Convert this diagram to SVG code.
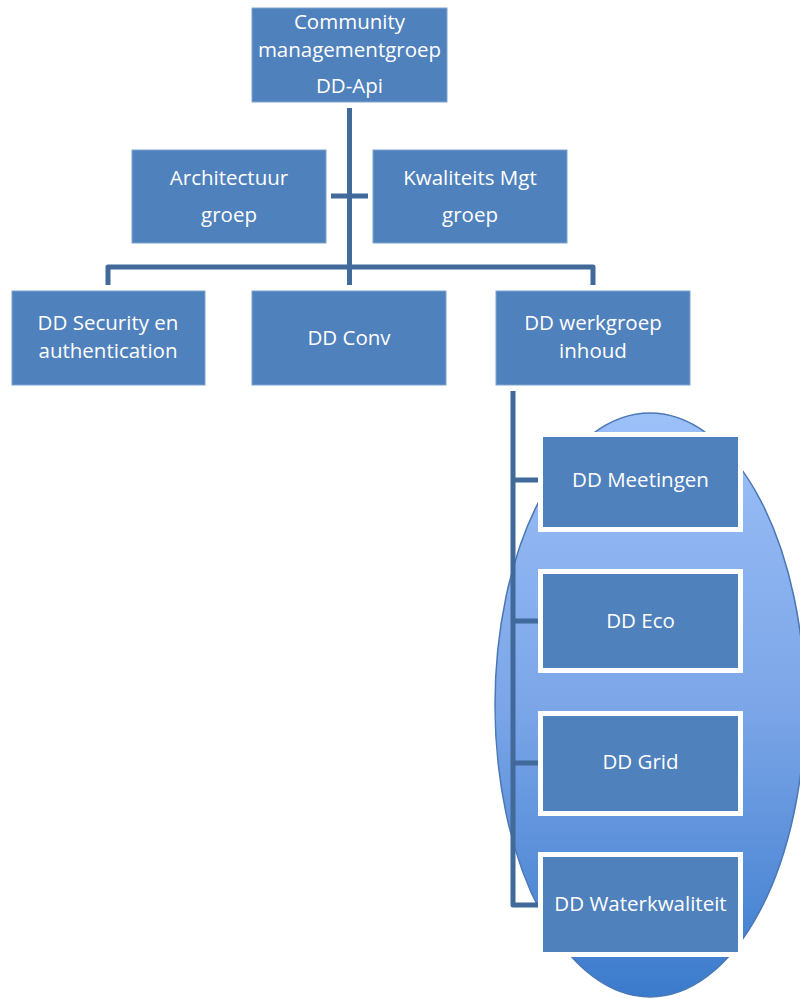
<svg xmlns="http://www.w3.org/2000/svg" width="800" height="999" viewBox="0 0 800 999">
<defs>
<linearGradient id="eg" x1="0" y1="0" x2="0" y2="1">
<stop offset="0" stop-color="#9CC0F8"/>
<stop offset="0.5" stop-color="#7CA6E8"/>
<stop offset="1" stop-color="#3B7BCC"/>
</linearGradient>
<style>
.box{fill:#4F81BD;stroke:#7FA3CF;stroke-width:1}
.wbox{fill:#4F81BD;stroke:#FFFFFF;stroke-width:5}
.t{font-family:"Open Sans","Liberation Sans",sans-serif;font-size:20.5px;fill:#FFFFFF;text-anchor:middle}
.c{fill:none;stroke:#41699A;stroke-width:5;stroke-linejoin:round}
</style>
</defs>
<rect width="800" height="999" fill="#FFFFFF"/>
<ellipse id="ellipse" cx="650" cy="705" rx="155" ry="292" fill="url(#eg)" stroke="#4A78B5" stroke-width="1.5"/>
<g id="connectors">
<path class="c" d="M349.5,108 V285"/>
<path class="c" d="M331,196 H368"/>
<path class="c" d="M108,285 V267 H593 V285"/>
<path class="c" d="M513,391 V905 H540"/>
<path class="c" d="M513,480 H540"/>
<path class="c" d="M513,621 H540"/>
<path class="c" d="M513,763 H540"/>
</g>
<g id="n-community"><rect class="box" x="252" y="8" width="195" height="94"/>
<text class="t" x="349.5" y="29">Community</text><text class="t" x="349.5" y="57">managementgroep</text><text class="t" x="349.5" y="93">DD-Api</text></g>
<g id="n-architectuur"><rect class="box" x="132" y="150" width="194" height="93"/>
<text class="t" x="229" y="185">Architectuur</text><text class="t" x="229" y="222">groep</text></g>
<g id="n-kwaliteits"><rect class="box" x="373" y="150" width="194" height="93"/>
<text class="t" x="470" y="185">Kwaliteits Mgt</text><text class="t" x="470" y="222">groep</text></g>
<g id="n-security"><rect class="box" x="12" y="291" width="193" height="94"/>
<text class="t" x="108" y="330">DD Security en</text><text class="t" x="108" y="358">authentication</text></g>
<g id="n-conv"><rect class="box" x="252" y="291" width="194" height="94"/>
<text class="t" x="349" y="345">DD Conv</text></g>
<g id="n-werkgroep"><rect class="box" x="496" y="291" width="194" height="94"/>
<text class="t" x="593" y="330">DD werkgroep</text><text class="t" x="593" y="358">inhoud</text></g>
<g id="n-meetingen"><rect class="wbox" x="540.5" y="434.5" width="200" height="95"/>
<text class="t" x="640.5" y="487">DD Meetingen</text></g>
<g id="n-eco"><rect class="wbox" x="540.5" y="571.5" width="200" height="99"/>
<text class="t" x="640.5" y="628">DD Eco</text></g>
<g id="n-grid"><rect class="wbox" x="540.5" y="713.5" width="200" height="100"/>
<text class="t" x="640.5" y="769">DD Grid</text></g>
<g id="n-waterkwaliteit"><rect class="wbox" x="540.5" y="854.5" width="200" height="100"/>
<text class="t" x="640.5" y="911">DD Waterkwaliteit</text></g>
</svg>
